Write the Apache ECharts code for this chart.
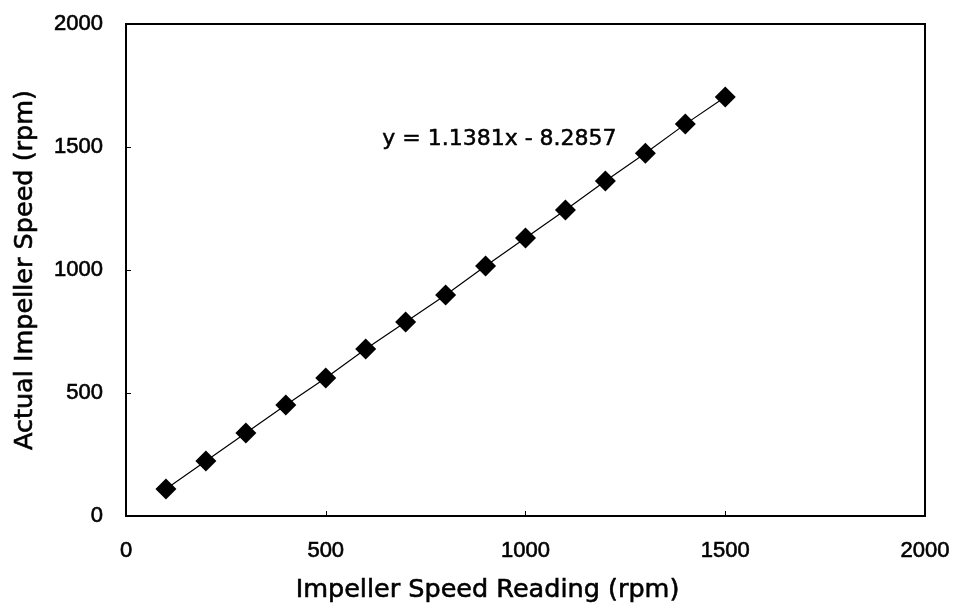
<!DOCTYPE html>
<html><head><meta charset="utf-8">
<script src="https://cdn.jsdelivr.net/npm/echarts@6/dist/echarts.min.js"></script>
<style>html,body{margin:0;padding:0;background:#fff}#c{width:955px;height:611px}</style>
</head><body><div id="c"></div>
<script>
const readings = [100,200,300,400,500,600,700,800,900,1000,1100,1200,1300,1400,1500];
const actual = [110,224,337,451,561,679,789,898,1016,1130,1244,1362,1475,1593,1703];
const xTitle = 'Impeller Speed Reading (rpm)';
const yTitle = 'Actual Impeller Speed (rpm)';
const equation = 'y = 1.1381x - 8.2857';
const font = 'Liberation Sans, Arial, sans-serif';
const wide = 'DejaVu Sans, sans-serif';
const heavy = {textBorderColor:'#000',textBorderWidth:0.6};
const chart = echarts.init(document.getElementById('c'));
chart.setOption({
  animation:false,
  grid:{left:126,right:30,top:24,bottom:95,show:true,borderColor:'#000',borderWidth:2,backgroundColor:'transparent'},
  xAxis:{type:'value',min:0,max:2000,interval:500,
    name:xTitle,nameLocation:'middle',nameGap:61,
    nameTextStyle:Object.assign({fontFamily:wide,fontSize:25.5,color:'#000',padding:[0,76,0,0]},heavy),
    axisLine:{show:true,lineStyle:{color:'#000',width:2}},
    axisTick:{show:true,inside:true,length:5,lineStyle:{color:'#000'}},
    axisLabel:Object.assign({fontFamily:font,fontSize:22,color:'#000',margin:24,formatter:v=>String(v)},heavy),
    splitLine:{show:false}},
  yAxis:{type:'value',min:0,max:2000,interval:500,
    name:yTitle,nameLocation:'middle',nameGap:88,
    nameTextStyle:Object.assign({fontFamily:wide,fontSize:25.5,color:'#000'},heavy),
    axisLine:{show:true,lineStyle:{color:'#000',width:2}},
    axisTick:{show:true,inside:true,length:5,lineStyle:{color:'#000'}},
    axisLabel:Object.assign({fontFamily:font,fontSize:22,color:'#000',margin:23,formatter:v=>String(v)},heavy),
    splitLine:{show:false}},
  graphic:[{type:'text',left:382,top:128,style:Object.assign({text:equation,font:'22px '+wide,fill:'#000',stroke:'#000',lineWidth:0.5})}],
  series:[{type:'line',data:readings.map((x,i)=>[x,actual[i]]),
    symbol:'diamond',symbolSize:[21,21],
    itemStyle:{color:'#000'},lineStyle:{color:'#000',width:1.2}}]
});
</script></body></html>
